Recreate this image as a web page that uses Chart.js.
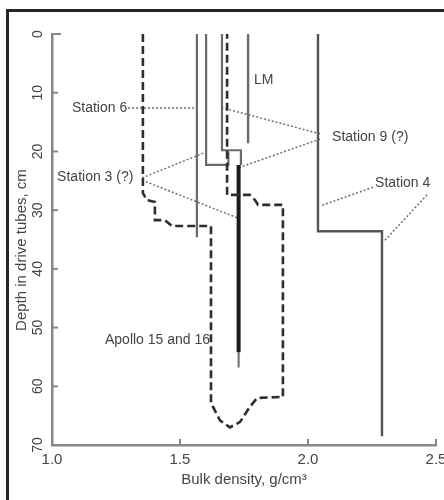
<!DOCTYPE html>
<html><head><meta charset="utf-8">
<script src="https://cdn.jsdelivr.net/npm/chart.js@4.4.0/dist/chart.umd.min.js"></script>
<style>html,body{margin:0;padding:0;background:#fff;} canvas{display:block;}</style>
</head><body>
<canvas id="c" width="444" height="500"></canvas>
<script>
// ---- tick labels ----
const xTickValues = [1.0, 1.5, 2.0, 2.5];
const xTickLabels = ['1.0', '1.5', '2.0', '2.5'];
const yTickValues = [0, 10, 20, 30, 40, 50, 60, 70];
const yTickLabels = ['0', '10', '20', '30', '40', '50', '60', '70'];

// ---- profiles: bulk density (g/cm3) vs depth (cm) ----
const station6X = [1.566, 1.566];
const station6Y = [0, 34.6];
const station3X = [1.602, 1.602, 1.689, 1.689];
const station3Y = [0, 22.3, 22.3, 20.0];
const station9X = [1.664, 1.664, 1.738, 1.738];
const station9Y = [0, 19.8, 19.8, 22.3];
const coreX = [1.729, 1.729];
const coreY = [22.3, 54.2];
const coreTailX = [1.729, 1.729];
const coreTailY = [54.2, 56.8];
const lmX = [1.766, 1.766];
const lmY = [0, 18.6];
const station4X = [2.039, 2.039, 2.289, 2.289];
const station4Y = [0, 33.6, 33.6, 68.5];
// Apollo 15 and 16 envelope (dashed)
const apolloX = [1.355, 1.355, 1.371, 1.402, 1.402, 1.441, 1.469, 1.621, 1.621, 1.629, 1.656, 1.695, 1.734, 1.773, 1.801, 1.902, 1.902, 1.805, 1.793, 1.773, 1.684, 1.684];
const apolloY = [0, 27.1, 28.3, 28.6, 31.7, 31.7, 32.7, 32.7, 62.9, 63.5, 65.8, 67.0, 66.1, 63.5, 62.0, 61.8, 29.1, 29.1, 28.3, 27.4, 27.4, 0];

// ---- leader lines (x1, y1, x2, y2) ----
const leaderX1 = [1.297, 1.352, 1.352, 2.047, 2.047, 2.254, 2.465];
const leaderY1 = [12.6, 24.5, 24.9, 17.0, 17.9, 26.1, 27.4];
const leaderX2 = [1.566, 1.602, 1.723, 1.668, 1.734, 2.047, 2.297];
const leaderY2 = [12.6, 20.1, 31.3, 12.6, 22.7, 29.3, 35.3];

// ---- annotation labels ----
const labelTexts = ['Station 6', 'Station 3 (?)', 'Station 9 (?)', 'Station 4', 'LM', 'Apollo 15 and 16'];
const labelX = [1.078, 1.020, 2.094, 2.262, 1.789, 1.207];
const labelY = [12.6, 24.4, 17.5, 25.4, 7.8, 52.1];

const zip = (xs, ys) => xs.map((x, i) => ({x: x, y: ys[i]}));
const line = (xs, ys, color, width, dash) => ({
  data: zip(xs, ys), showLine: true, borderColor: color, borderWidth: width,
  borderDash: dash || [], pointRadius: 0, fill: false, tension: 0,
  borderJoinStyle: 'miter', borderCapStyle: 'butt'
});

const datasets = [
  line(apolloX, apolloY, '#2e2e2e', 2.6, [8, 4]),
  line(station6X, station6Y, '#6a6a6a', 2.2),
  line(station3X, station3Y, '#6a6a6a', 2.2),
  line(station9X, station9Y, '#6a6a6a', 2.2),
  line(lmX, lmY, '#6a6a6a', 2.4),
  line(station4X, station4Y, '#555', 2.4),
  line(coreX, coreY, '#1c1c1c', 4),
  line(coreTailX, coreTailY, '#777', 2.2)
];
leaderX1.forEach((x, i) => {
  datasets.push(line([x, leaderX2[i]], [leaderY1[i], leaderY2[i]], '#6f6f6f', 1.5, [2, 2]));
});

const FONT = '"Liberation Sans", Arial, sans-serif';

const decor = {
  id: 'decor',
  beforeDraw(chart) {
    const ctx = chart.ctx;
    ctx.save();
    ctx.fillStyle = '#262626';
    ctx.fillRect(6, 9, 3, 491);
    ctx.fillRect(6, 9, 438, 3);
    ctx.restore();
  },
  afterDraw(chart) {
    const ctx = chart.ctx;
    const xs = chart.scales.x, ys = chart.scales.y;
    ctx.save();
    // inward ticks
    ctx.strokeStyle = '#888';
    ctx.lineWidth = 2;
    yTickValues.forEach((v, i) => {
      const p = ys.getPixelForValue(v);
      const len = i === 0 ? 9 : 6;
      ctx.beginPath(); ctx.moveTo(xs.left, p); ctx.lineTo(xs.left + len, p); ctx.stroke();
    });
    xTickValues.forEach((v, i) => {
      if (i === 0) return;
      const p = xs.getPixelForValue(v);
      ctx.beginPath(); ctx.moveTo(p, ys.bottom); ctx.lineTo(p, ys.bottom - 6); ctx.stroke();
    });
    // labels
    ctx.fillStyle = '#444';
    ctx.font = '14px ' + FONT;
    ctx.textBaseline = 'middle';
    ctx.textAlign = 'left';
    labelTexts.forEach((t, i) => {
      ctx.fillText(t, xs.getPixelForValue(labelX[i]), ys.getPixelForValue(labelY[i]));
    });
    // y title
    ctx.font = '15px ' + FONT;
    ctx.textAlign = 'center';
    ctx.translate(22, ys.getPixelForValue(36.8));
    ctx.rotate(-Math.PI / 2);
    ctx.fillText('Depth in drive tubes, cm', 0, 0);
    ctx.restore();
  }
};

new Chart(document.getElementById('c'), {
  type: 'scatter',
  data: {datasets: datasets},
  options: {
    responsive: false,
    animation: false,
    devicePixelRatio: 1,
    layout: {padding: {left: 0, top: 34, right: 8, bottom: 0}},
    plugins: {legend: {display: false}, tooltip: {enabled: false}},
    scales: {
      x: {
        type: 'linear', min: 1.0, max: 2.5,
        afterBuildTicks: (s) => { s.ticks = xTickValues.map(v => ({value: v})); },
        afterFit: (s) => { s.height = 55; s.paddingLeft = 0; s.paddingRight = 0; },
        grid: {display: false, drawTicks: false},
        border: {display: true, color: '#888', width: 2.5},
        ticks: {
          padding: 6, color: '#444', font: {family: FONT, size: 15},
          callback: (v) => { const i = xTickValues.indexOf(v); return i >= 0 ? xTickLabels[i] : ''; }
        },
        title: {display: true, text: 'Bulk density, g/cm³', color: '#444',
          font: {family: FONT, size: 15}, padding: {top: 0, bottom: 11}}
      },
      y: {
        type: 'linear', min: 0, max: 70, reverse: true,
        afterBuildTicks: (s) => { s.ticks = yTickValues.map(v => ({value: v})); },
        afterFit: (s) => { s.width = 52; s.paddingTop = 0; s.paddingBottom = 0; },
        grid: {display: false, drawTicks: false},
        border: {display: true, color: '#888', width: 2.5},
        ticks: {
          padding: 6, color: '#444', font: {family: FONT, size: 14},
          minRotation: 90, maxRotation: 90, crossAlign: 'center', autoSkip: false,
          callback: (v) => { const i = yTickValues.indexOf(v); return i >= 0 ? yTickLabels[i] : ''; }
        }
      }
    }
  },
  plugins: [decor]
});
</script>
</body></html>
